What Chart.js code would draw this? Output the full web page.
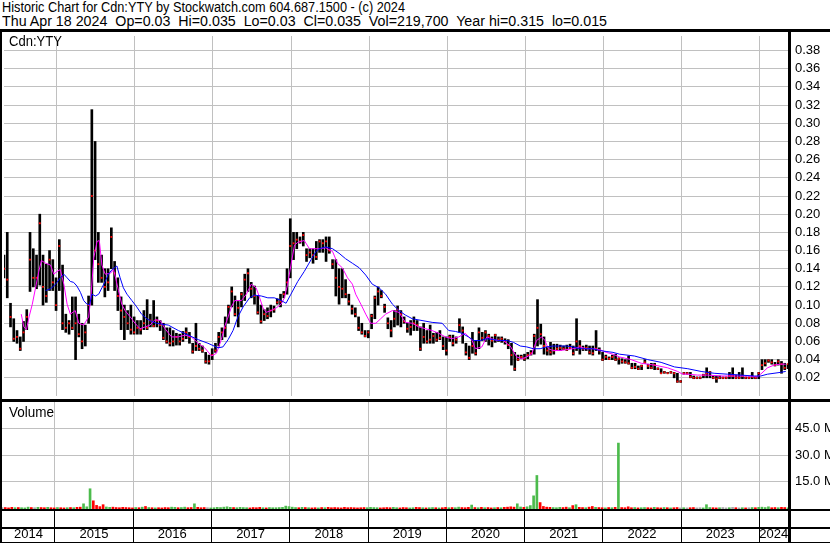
<!DOCTYPE html>
<html>
<head>
<meta charset="utf-8">
<script src="https://cdn.jsdelivr.net/npm/chart.js@4.4.1/dist/chart.umd.min.js"></script>
<style>
  body { margin: 0; background: #fff; width: 830px; height: 543px; overflow: hidden; position: relative;
         font-family: 'Liberation Sans', Arial, sans-serif; color: #000; }
  .hl { position: absolute; left: 0; width: 830px; background: #000; }
  .vl { position: absolute; top: 29px; height: 514px; background: #000; }
  .txt { position: absolute; font-size: 14px; line-height: 15px; white-space: pre; transform-origin: 0 0; }
  #pwrap { position: absolute; left: 0; top: 32px; }
  #vwrap { position: absolute; left: 0; top: 402px; }
</style>
</head>
<body>
<div class="txt" data-w="403" style="left:2px;top:0px">Historic Chart for Cdn:YTY by Stockwatch.com 604.687.1500 - (c) 2024</div>
<div class="txt" data-w="605" style="left:2px;top:14px">Thu Apr 18 2024  Op=0.03  Hi=0.035  Lo=0.03  Cl=0.035  Vol=219,700  Year hi=0.315  lo=0.015</div>

<div id="pwrap"><canvas id="price" width="830" height="368"></canvas></div>
<div id="vwrap"><canvas id="volume" width="830" height="141"></canvas></div>

<div class="txt" data-w="53" style="left:9px;top:34px">Cdn:YTY</div>
<div class="txt" data-w="45" style="left:9px;top:405px">Volume</div>

<div class="hl" style="top:29px;height:3px"></div>
<div class="hl" style="top:399px;height:3px"></div>
<div class="hl" style="top:509px;height:2px"></div>
<div class="hl" style="top:527px;height:2px"></div>
<div class="hl" style="top:542px;height:1px"></div>
<div class="vl" style="left:0;width:2px"></div>
<div class="vl" style="left:788px;width:3px"></div>

<script>
// bars are half-month periods, the first one around late April 2014
const startYear = 2014.324;
const perYear = 24;

const years = [2014, 2015, 2016, 2017, 2018, 2019, 2020, 2021, 2022, 2023, 2024];
const priceTicks = [0.02, 0.04, 0.06, 0.08, 0.10, 0.12, 0.14, 0.16, 0.18, 0.20,
                    0.22, 0.24, 0.26, 0.28, 0.30, 0.32, 0.34, 0.36, 0.38];
const volTicks = [15, 30, 45];

const hi = [
  .155,.180,.102,.085,.072,.065,.082,.095,.180,.162,
  .155,.200,.155,.145,.160,.150,.130,.172,.144,.090,
  .083,.109,.109,.090,.080,.078,.110,.315,.280,.180,
  .155,.140,.140,.185,.148,.130,.109,.100,.094,.100,
  .087,.083,.083,.094,.106,.090,.105,.087,.083,.080,
  .075,.075,.072,.069,.068,.071,.075,.070,.058,.080,
  .058,.055,.048,.045,.052,.058,.070,.075,.087,.100,
  .120,.110,.104,.114,.134,.140,.125,.121,.110,.100,
  .095,.097,.100,.099,.107,.112,.115,.140,.195,.180,
  .180,.175,.180,.162,.162,.162,.170,.172,.172,.175,
  .175,.150,.150,.140,.140,.128,.112,.100,.097,.087,
  .080,.072,.072,.090,.110,.120,.116,.101,.086,.083,
  .094,.099,.094,.087,.080,.083,.087,.083,.076,.080,
  .072,.078,.069,.070,.072,.065,.065,.067,.067,.065,
  .085,.076,.058,.055,.070,.061,.075,.070,.072,.068,
  .065,.068,.065,.065,.063,.062,.058,.048,.045,.045,
  .046,.048,.050,.068,.106,.079,.065,.054,.059,.057,
  .057,.056,.055,.056,.057,.055,.085,.061,.055,.056,
  .055,.055,.072,.053,.048,.045,.043,.045,.046,.042,
  .041,.040,.044,.036,.036,.033,.034,.040,.035,.036,
  .036,.031,.030,.027,.026,.027,.026,.025,.017,.026,
  .026,.026,.022,.021,.021,.024,.031,.027,.022,.022,
  .022,.021,.021,.026,.031,.023,.026,.031,.021,.021,
  .026,.021,.026,.040,.040,.040,.040,.037,.040,.038,
  .036,.035
];
const lo = [
  .130,.108,.076,.060,.058,.050,.060,.073,.115,.120,
  .118,.122,.100,.103,.116,.116,.094,.116,.073,.070,
  .068,.073,.040,.065,.052,.055,.080,.100,.150,.125,
  .125,.109,.116,.140,.116,.094,.073,.062,.073,.068,
  .068,.068,.068,.073,.073,.076,.076,.076,.072,.062,
  .058,.055,.055,.056,.056,.060,.063,.058,.047,.050,
  .050,.048,.036,.035,.040,.048,.055,.062,.065,.080,
  .098,.088,.076,.098,.105,.115,.108,.101,.090,.080,
  .083,.085,.087,.092,.101,.098,.108,.112,.130,.150,
  .162,.168,.165,.148,.152,.146,.150,.158,.158,.148,
  .157,.140,.110,.101,.108,.108,.100,.090,.087,.072,
  .068,.065,.064,.074,.085,.100,.108,.092,.074,.065,
  .076,.078,.076,.080,.070,.067,.072,.072,.050,.058,
  .058,.058,.058,.060,.062,.051,.045,.060,.055,.058,
  .070,.058,.045,.040,.047,.045,.052,.061,.060,.056,
  .054,.059,.060,.059,.057,.052,.034,.028,.039,.041,
  .039,.041,.045,.046,.055,.057,.046,.045,.045,.046,
  .050,.050,.051,.050,.052,.045,.050,.046,.050,.050,
  .046,.045,.050,.046,.039,.040,.040,.040,.039,.035,
  .036,.036,.035,.030,.030,.029,.029,.036,.030,.030,
  .029,.029,.025,.025,.025,.025,.020,.015,.015,.024,
  .024,.020,.019,.019,.019,.020,.020,.020,.019,.015,
  .019,.019,.019,.019,.019,.019,.019,.019,.019,.019,
  .019,.019,.019,.029,.033,.037,.035,.033,.034,.025,
  .029,.030
];
const cl = [
  .140,.128,.087,.063,.065,.052,.070,.087,.150,.130,
  .130,.190,.120,.110,.150,.125,.100,.165,.080,.075,
  .080,.075,.080,.068,.060,.070,.100,.220,.160,.145,
  .130,.120,.125,.175,.135,.110,.094,.087,.080,.073,
  .070,.075,.073,.080,.075,.083,.077,.083,.078,.064,
  .060,.058,.060,.065,.060,.063,.070,.065,.049,.055,
  .052,.050,.038,.038,.045,.050,.065,.070,.075,.098,
  .115,.090,.097,.112,.128,.135,.118,.110,.092,.082,
  .090,.088,.094,.095,.103,.104,.112,.125,.165,.168,
  .172,.170,.177,.155,.158,.155,.153,.170,.168,.170,
  .160,.145,.130,.120,.118,.112,.104,.096,.090,.075,
  .070,.066,.070,.088,.108,.115,.110,.098,.080,.072,
  .085,.095,.090,.082,.074,.076,.080,.078,.052,.065,
  .060,.062,.066,.062,.064,.055,.050,.065,.058,.062,
  .078,.072,.048,.042,.055,.047,.070,.064,.070,.066,
  .061,.067,.062,.063,.060,.056,.045,.030,.040,.043,
  .041,.045,.047,.066,.075,.068,.055,.050,.048,.050,
  .052,.053,.052,.051,.053,.047,.060,.055,.052,.053,
  .048,.047,.052,.050,.040,.043,.041,.043,.040,.041,
  .038,.037,.036,.031,.032,.030,.033,.037,.033,.031,
  .034,.030,.025,.026,.025,.026,.025,.016,.016,.025,
  .025,.021,.020,.020,.020,.023,.025,.026,.020,.019,
  .020,.020,.020,.022,.022,.020,.020,.022,.020,.020,
  .021,.020,.025,.034,.036,.039,.037,.034,.038,.035,
  .031,.035
];
// volume in millions of shares
const vol = [
  0.3,0.4,0.2,0.5,0.3,0.4,0.3,0.2,0.6,0.4,0.3,0.5,
  0.4,0.3,0.5,0.3,0.2,0.4,0.3,0.2,0.3,0.4,0.3,0.5,
  0.6,2.5,0.8,11.0,4.2,1.6,0.9,2.0,0.7,0.5,0.6,0.4,
  0.3,0.5,0.4,0.3,0.2,0.4,0.3,0.6,1.0,0.4,0.3,0.2,
  0.3,0.2,0.4,0.3,0.6,0.5,0.3,0.4,0.6,0.3,0.4,2.5,
  0.5,0.3,0.4,0.3,0.2,0.3,0.5,0.4,0.6,0.8,0.5,0.4,
  0.3,0.5,0.4,0.3,0.2,0.4,0.3,0.5,0.3,0.2,0.4,0.3,
  0.3,0.4,0.5,1.2,0.9,0.6,0.4,0.3,0.5,0.4,0.3,0.2,
  0.3,0.2,0.4,0.3,0.5,0.3,0.4,0.3,0.2,0.5,0.3,0.4,
  0.3,0.2,0.3,0.4,0.3,0.5,0.4,0.3,0.2,0.3,0.4,0.3,
  0.5,0.3,0.2,0.4,0.3,0.2,0.3,0.5,0.4,0.3,0.2,0.3,
  0.4,0.3,0.2,0.3,0.5,0.3,0.4,0.3,0.6,0.4,0.3,0.5,
  1.8,0.4,0.3,0.5,0.3,0.4,0.2,0.3,0.4,0.3,0.5,0.6,
  0.8,0.6,2.5,0.7,0.5,0.8,1.5,7.0,18.5,3.2,1.0,0.6,
  0.5,0.4,0.3,0.5,0.4,0.6,0.3,1.5,2.0,0.5,0.4,0.3,
  0.6,1.0,0.5,0.4,0.3,0.2,0.4,0.3,0.5,36.8,0.4,0.3,
  0.8,0.3,0.4,0.2,0.3,0.4,0.3,0.2,0.5,0.3,0.2,0.4,
  0.3,0.2,0.3,0.4,0.2,0.3,0.2,0.3,0.4,0.2,0.3,0.2,
  2.0,0.4,0.3,0.2,0.3,0.4,0.2,0.3,0.5,0.3,0.2,0.3,
  0.2,0.3,0.4,0.3,0.5,0.6,0.4,0.8,0.3,0.4,0.3,0.5,
  0.4,0.2
];
// moving averages: [bar position, price]
const maFast = [
  [5.3,.090],[6.1,.076],[6.9,.073],[7.7,.087],[8.7,.101],[9.7,.119],[10.7,.137],[11.5,.149],
  [12.8,.146],[14.3,.144],[15.3,.134],[16.3,.137],[17.3,.139],[18.4,.123],[19.4,.101],[20.4,.090],
  [21.9,.094],[23,.080],[24.5,.078],[26,.087],[26.7,.108],[27.6,.152],[28.6,.170],[29.3,.171],
  [30.1,.144],[31.1,.134],[32.7,.135],[33.7,.139],[35.2,.116],[36.2,.101],[37.2,.094],[38.8,.087],
  [40.3,.080],[41.8,.074],[43.4,.076],[44.9,.078],[46.4,.084],[48,.083],[49.5,.074],[51.5,.065],
  [53.6,.065],[55.6,.067],[57.6,.065],[59.7,.058],[61.7,.053],[63.8,.044],[65.3,.047],[66.8,.062],
  [67.8,.076],[68.9,.087],[69.9,.098],[70.9,.105],[73,.105],[74.5,.112],[76,.123],[77.5,.119],
  [78.6,.108],[79.6,.097],[80.6,.092],[82.1,.094],[83.7,.097],[85.2,.101],[86.2,.108],[87.2,.123],
  [88.2,.144],[89.3,.166],[90.3,.169],[92.3,.171],[93.9,.162],[96.9,.162],[98.9,.163],[101,.159],
  [102.5,.146],[104,.141],[105.6,.130],[107.1,.123],[108.1,.112],[109.7,.101],[111.2,.090],[112.7,.080],
  [114.3,.080],[115.8,.085],[117.3,.090],[119.4,.094],[121.4,.092],[123.4,.081],[125.5,.080],[127.5,.076],
  [129.6,.074],[131.6,.072],[133.6,.069],[135.7,.065],[137.7,.063],[139.8,.065],[141.8,.069],[143.9,.061],
  [144.9,.052],[146.9,.054],[148.4,.065],[149.9,.063],[151.5,.061],[153.5,.061],[155.6,.055],[157.6,.043],
  [159.2,.041],[160.7,.043],[162.2,.046],[163.7,.061],[165.3,.065],[166.3,.061],[167.3,.052],[168.8,.050],
  [170.9,.050],[172.9,.051],[174.9,.052],[177,.054],[179,.052],[181,.052],[183.1,.051],[185.1,.048],
  [187.2,.046],[189.2,.043],[192.8,.040],[195.9,.036],[199.9,.034],[204,.031],[207.1,.027],[208.6,.024],
  [210.2,.024],[213.2,.023],[216.3,.023],[220.4,.022],[224.5,.022],[228.5,.022],[231.6,.021],[232.6,.024],
  [234.7,.031],[236.7,.034],[238.7,.035],[240.3,.035]
];
const maSlow = [
  [12.8,.116],[14.3,.118],[15.3,.121],[16.3,.125],[17.3,.130],[18.4,.134],[19.4,.130],[20.4,.126],
  [21.4,.125],[22.4,.121],[23.5,.114],[24.5,.105],[25.5,.101],[26.3,.100],[27,.112],[28.1,.110],
  [29.1,.112],[30.1,.119],[31.1,.126],[32.1,.134],[33.2,.139],[34.7,.143],[35.7,.130],[36.7,.119],
  [37.8,.112],[39.3,.105],[40.8,.098],[42.3,.090],[43.9,.085],[45.4,.082],[46.9,.080],[48.5,.079],
  [50.5,.078],[53.6,.072],[56.6,.067],[59.7,.062],[62.7,.058],[65.8,.053],[67.3,.054],[68.9,.062],
  [70.4,.072],[71.9,.087],[73.5,.098],[75.5,.108],[77,.111],[79.1,.110],[81.1,.108],[83.1,.108],
  [85.2,.105],[86.7,.102],[88.2,.112],[90.3,.126],[92.3,.137],[94.4,.150],[95.9,.159],[96.9,.162],
  [98.9,.164],[101,.162],[103,.157],[105,.151],[107.1,.146],[109.2,.141],[111.2,.133],[113.2,.123],
  [115.3,.119],[117.3,.112],[119.4,.101],[121.4,.094],[123.4,.089],[125.5,.085],[128.5,.083],[131.6,.081],
  [134.7,.080],[136.7,.072],[138.8,.071],[140.8,.069],[142.8,.065],[144.4,.061],[146.4,.061],[148.4,.063],
  [150.5,.062],[152.5,.061],[154.6,.061],[156.6,.059],[158.7,.055],[160.7,.054],[162.7,.052],[164.8,.052],
  [166.8,.054],[168.8,.055],[170.9,.055],[172.9,.055],[174.9,.054],[177,.052],[179,.052],[181,.052],
  [183.1,.050],[185.1,.049],[187.2,.048],[189.2,.046],[193.8,.044],[197.9,.040],[202,.037],[206.1,.032],
  [210.2,.030],[214.3,.027],[218.3,.025],[222.4,.024],[226.5,.023],[230.6,.022],[232.6,.022],[234.7,.024],
  [236.7,.025],[238.7,.026],[240.3,.027]
];

const xMax = cl.length - 1;
const fontFamily = "'Liberation Sans', Arial, sans-serif";
const gridGray = '#c0c0c0';

// year boundaries and the middle of each (visible part of a) year, in bar units
const bounds = years.slice(1).map(y => (y - startYear) * perYear);
const edges = [0, ...bounds, xMax];
const yearTicks = [];
years.forEach((y, k) => {
  if (k > 0) yearTicks.push({ value: edges[k] });
  yearTicks.push({ value: (edges[k] + edges[k + 1]) / 2, yl: String(y) });
});

// squeeze the header texts to the narrow width of the original font
document.querySelectorAll('.txt').forEach(el => {
  const w = el.getBoundingClientRect().width;
  el.style.transform = 'scaleX(' + (Number(el.dataset.w) / w) + ')';
});

// keep tick labels from shrinking the plot area
const noPad = a => { a.paddingTop = 0; a.paddingBottom = 0; a.paddingLeft = 0; a.paddingRight = 0; };

new Chart(document.getElementById('price'), {
  type: 'bar',
  data: {
    datasets: [
      { type: 'line', data: maSlow.map(p => ({ x: p[0], y: p[1] })), borderColor: '#0000ff',
        borderWidth: 1, pointRadius: 0, order: 0 },
      { type: 'line', data: maFast.map(p => ({ x: p[0], y: p[1] })), borderColor: '#ff00ff',
        borderWidth: 1, pointRadius: 0, order: 0 },
      { type: 'line', data: cl.map((c, i) => ({ x: i, y: c })), showLine: false, pointStyle: 'rect',
        pointRadius: 1.3, pointBackgroundColor: '#ff0000', pointBorderWidth: 0, order: 1 },
      { type: 'bar', data: hi.map((h, i) => ({ x: i, y: [lo[i], h] })), backgroundColor: '#000',
        barThickness: 2, order: 2 }
    ]
  },
  options: {
    animation: false,
    responsive: false,
    events: [],
    layout: { padding: { left: 2 } },
    plugins: { legend: { display: false }, tooltip: { enabled: false } },
    scales: {
      x: {
        type: 'linear', min: 0, max: xMax, offset: false,
        afterBuildTicks: a => { a.ticks = bounds.map(v => ({ value: v })); },
        afterFit: a => { a.height = 0; noPad(a); },
        ticks: { display: false },
        grid: { offset: false, color: gridGray, lineWidth: 1, drawTicks: false },
        border: { display: false }
      },
      y: {
        position: 'right', min: 0, max: 0.396,
        afterBuildTicks: a => { a.ticks = priceTicks.map(v => ({ value: v })); },
        afterFit: a => { a.width = 42; noPad(a); },
        ticks: { callback: v => v.toFixed(2), padding: 7, color: '#000',
                 font: { family: fontFamily, size: 13 } },
        grid: { color: gridGray, lineWidth: 1, drawTicks: false },
        border: { display: false }
      }
    }
  }
});

new Chart(document.getElementById('volume'), {
  type: 'bar',
  data: {
    datasets: [{
      data: vol.map((v, i) => ({ x: i, y: v })),
      backgroundColor: cl.map((c, i) => i === 0 || c === cl[i - 1] ? '#a8a8a8' : (c > cl[i - 1] ? '#4cbb4c' : '#ff0000')),
      barThickness: 2,
      base: -1
    }]
  },
  options: {
    animation: false,
    responsive: false,
    events: [],
    layout: { padding: { left: 2 } },
    plugins: { legend: { display: false }, tooltip: { enabled: false } },
    scales: {
      x: {
        type: 'linear', min: 0, max: xMax, offset: false,
        afterBuildTicks: a => { a.ticks = yearTicks.map(t => ({ ...t })); },
        afterFit: a => { a.height = 33; noPad(a); },
        ticks: { autoSkip: false, maxRotation: 0, padding: -16, color: '#000',
                 font: { family: fontFamily, size: 13 },
                 callback: (v, i, t) => t[i].yl || '' },
        grid: {
          offset: false,
          color: c => (c.tick && c.tick.yl) ? 'rgba(0,0,0,0)' : gridGray,
          tickColor: c => (c.tick && c.tick.yl) ? 'rgba(0,0,0,0)' : '#000',
          lineWidth: 1, tickWidth: 1, tickLength: 33
        },
        border: { display: false }
      },
      y: {
        position: 'right', min: -1, max: 60,
        afterBuildTicks: a => { a.ticks = volTicks.map(v => ({ value: v })); },
        afterFit: a => { a.width = 42; noPad(a); },
        ticks: { callback: v => v.toFixed(1) + ' M', padding: 7, color: '#000',
                 font: { family: fontFamily, size: 13 } },
        grid: { color: gridGray, lineWidth: 1, drawTicks: false },
        border: { display: false }
      }
    }
  }
});
</script>
</body>
</html>
